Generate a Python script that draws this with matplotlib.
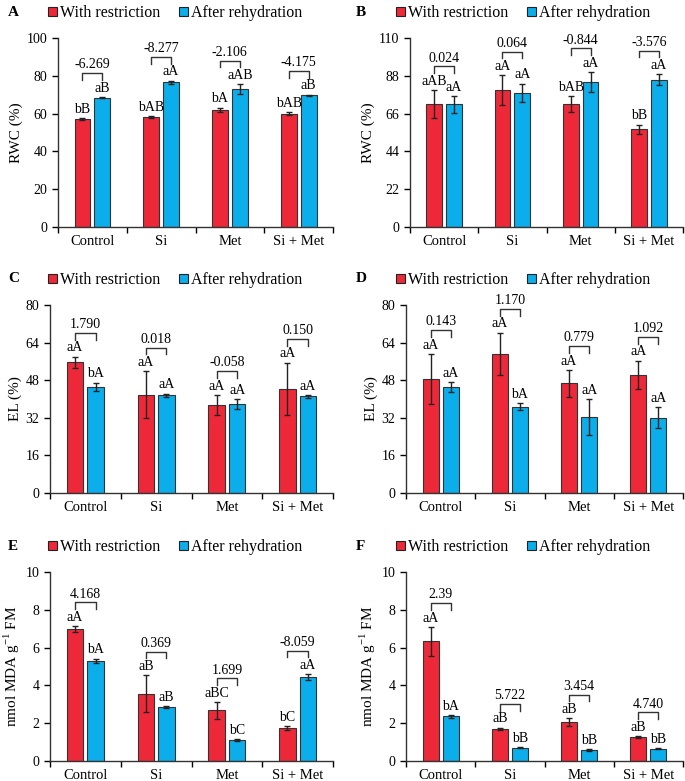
import matplotlib
matplotlib.use('Agg')
import matplotlib.pyplot as plt
from matplotlib.patches import Patch

plt.rcParams['font.family'] = ['Liberation Serif', 'DejaVu Serif']
plt.rcParams['mathtext.fontset'] = 'custom'
plt.rcParams['mathtext.rm'] = 'Liberation Serif'

groups = ['Control', 'Si', 'Met', 'Si + Met']
series_names = ['With restriction', 'After rehydration']

# A - RWC (%)
a_restr = [57.2, 58.0, 62.0, 60.0]
a_restr_err = [0.5, 0.5, 1.2, 0.8]
a_rehyd = [68.5, 76.5, 73.0, 69.8]
a_rehyd_err = [0.3, 1.0, 2.5, 0.3]
a_lab_restr = ['bB', 'bAB', 'bA', 'bAB']
a_lab_rehyd = ['aB', 'aA', 'aAB', 'aB']
a_diff = ['-6.269', '-8.277', '-2.106', '-4.175']

# B - RWC (%)
b_restr = [71.7, 79.6, 71.5, 56.9]
b_restr_err = [8.0, 8.7, 4.6, 2.7]
b_rehyd = [71.3, 78.0, 84.4, 85.8]
b_rehyd_err = [4.8, 5.5, 5.8, 3.1]
b_lab_restr = ['aAB', 'aA', 'bAB', 'bB']
b_lab_rehyd = ['aA', 'aA', 'aA', 'aA']
b_diff = ['0.024', '0.064', '-0.844', '-3.576']

# C - EL (%)
c_restr = [55.6, 41.8, 37.5, 44.3]
c_restr_err = [2.4, 10.0, 4.3, 11.2]
c_rehyd = [45.3, 41.5, 37.9, 41.1]
c_rehyd_err = [1.7, 0.8, 2.1, 0.5]
c_lab_restr = ['aA', 'aA', 'aA', 'aA']
c_lab_rehyd = ['bA', 'aA', 'aA', 'aA']
c_diff = ['1.790', '0.018', '-0.058', '0.150']

# D - EL (%)
d_restr = [48.6, 59.2, 46.7, 50.3]
d_restr_err = [10.6, 9.0, 5.7, 6.0]
d_rehyd = [45.0, 36.7, 32.3, 32.1]
d_rehyd_err = [2.1, 1.5, 7.8, 4.5]
d_lab_restr = ['aA', 'aA', 'aA', 'aA']
d_lab_rehyd = ['aA', 'bA', 'aA', 'aA']
d_diff = ['0.143', '1.170', '0.779', '1.092']

# E - MDA
e_restr = [6.97, 3.56, 2.68, 1.75]
e_restr_err = [0.17, 0.97, 0.44, 0.10]
e_rehyd = [5.31, 2.86, 1.11, 4.44]
e_rehyd_err = [0.10, 0.05, 0.03, 0.15]
e_lab_restr = ['aA', 'aB', 'aBC', 'bC']
e_lab_rehyd = ['bA', 'aB', 'bC', 'aA']
e_diff = ['4.168', '0.369', '1.699', '-8.059']

# F - MDA
f_restr = [6.33, 1.69, 2.05, 1.27]
f_restr_err = [0.76, 0.07, 0.20, 0.05]
f_rehyd = [2.36, 0.71, 0.58, 0.65]
f_rehyd_err = [0.08, 0.03, 0.05, 0.03]
f_lab_restr = ['aA', 'aB', 'aB', 'aB']
f_lab_rehyd = ['bA', 'bB', 'bB', 'bB']
f_diff = ['2.39', '5.722', '3.454', '4.740']

RED = '#ED2939'
BLUE = '#0BAEEA'
EDGE = '#333333'

W, H = 685, 781
fig = plt.figure(figsize=(W / 100, H / 100), dpi=100)


def px_axes(l, r, t, b):
    return fig.add_axes([l / W, 1 - b / H, (r - l) / W, (b - t) / H])


#=======================================================
def draw_panel(ax, restr, restr_err, rehyd, rehyd_err, lab_r, lab_b, diff,
               ymax, ystep, ylabel):
    x = range(len(groups))
    w = 0.23
    off = 0.145
    xr = [i - off for i in x]
    xb = [i + off for i in x]
    ax.bar(xr, restr, w, color=RED, edgecolor=EDGE, linewidth=0.8,
           yerr=restr_err, error_kw=dict(ecolor='#222222', elinewidth=1, capsize=2.5, capthick=1))
    ax.bar(xb, rehyd, w, color=BLUE, edgecolor=EDGE, linewidth=0.8,
           yerr=rehyd_err, error_kw=dict(ecolor='#222222', elinewidth=1, capsize=2.5, capthick=1))

    pad = 0.012 * ymax
    for i in x:
        ax.text(xr[i], restr[i] + restr_err[i] + pad, lab_r[i], ha='center', va='bottom', fontsize=10)
        ax.text(xb[i], rehyd[i] + rehyd_err[i] + pad, lab_b[i], ha='center', va='bottom', fontsize=10)
        top = max(restr[i] + restr_err[i], rehyd[i] + rehyd_err[i])
        yb = top + 0.125 * ymax
        tick = 0.035 * ymax
        ax.plot([xr[i], xr[i], xb[i], xb[i]], [yb - tick, yb, yb, yb - tick],
                color='#333333', lw=1, clip_on=False)
        ax.text((xr[i] + xb[i]) / 2, yb + 0.01 * ymax, diff[i], ha='center', va='bottom', fontsize=10)

    ax.set_xlim(-0.5, len(groups) - 0.5)
    ax.set_ylim(0, ymax)
    yt = [k * ystep for k in range(int(round(ymax / ystep)) + 1)]
    ax.set_yticks(yt)
    ax.set_yticklabels([f'{v:g}' for v in yt], fontsize=10)
    ax.set_xticks(list(x))
    ax.set_xticklabels(groups, fontsize=10.5)
    ax.set_xticks([i + 0.5 for i in range(-1, len(groups))], minor=True)
    ax.tick_params(axis='x', which='major', length=0, pad=6)
    ax.tick_params(axis='x', which='minor', length=4, width=1)
    ax.tick_params(axis='y', length=4, width=1)
    for s in ['top', 'right']:
        ax.spines[s].set_visible(False)
    for s in ['left', 'bottom']:
        ax.spines[s].set_linewidth(1)
        ax.spines[s].set_color('#333333')
    ax.set_ylabel(ylabel, fontsize=11, labelpad=3)


def add_legend(xp, yp):
    handles = [Patch(facecolor=RED, edgecolor='#222222', linewidth=0.8),
               Patch(facecolor=BLUE, edgecolor='#222222', linewidth=0.8)]
    fig.legend(handles, series_names, loc='center left',
               bbox_to_anchor=(xp / W, 1 - yp / H), ncol=2, frameon=False,
               fontsize=11.5, handlelength=0.55, handleheight=0.55,
               handletextpad=0.2, columnspacing=1.2, borderpad=0, borderaxespad=0)


panels = [
    ('A', (58, 333, 38, 227), (a_restr, a_restr_err, a_rehyd, a_rehyd_err, a_lab_restr, a_lab_rehyd, a_diff), 100, 20, 'RWC (%)', 8, 12),
    ('B', (410, 683, 38, 227), (b_restr, b_restr_err, b_rehyd, b_rehyd_err, b_lab_restr, b_lab_rehyd, b_diff), 110, 22, 'RWC (%)', 356, 12),
    ('C', (50, 333, 305, 493), (c_restr, c_restr_err, c_rehyd, c_rehyd_err, c_lab_restr, c_lab_rehyd, c_diff), 80, 16, 'EL (%)', 8, 279),
    ('D', (406, 683, 305, 493), (d_restr, d_restr_err, d_rehyd, d_rehyd_err, d_lab_restr, d_lab_rehyd, d_diff), 80, 16, 'EL (%)', 356, 279),
    ('E', (50, 333, 572, 761), (e_restr, e_restr_err, e_rehyd, e_rehyd_err, e_lab_restr, e_lab_rehyd, e_diff), 10, 2, 'nmol MDA g$^{\\mathregular{-1}}$ FM', 8, 546),
    ('F', (406, 683, 572, 761), (f_restr, f_restr_err, f_rehyd, f_rehyd_err, f_lab_restr, f_lab_rehyd, f_diff), 10, 2, 'nmol MDA g$^{\\mathregular{-1}}$ FM', 356, 546),
]

for letter, rect, data, ymax, ystep, ylabel, lx, ly in panels:
    ax = px_axes(*rect)
    draw_panel(ax, *data, ymax, ystep, ylabel)
    fig.text(lx / W, 1 - ly / H, letter, fontsize=11, fontweight='bold', va='center', ha='left')
    add_legend(lx + 40, ly + 1)

fig.savefig('out.png', dpi=100)
